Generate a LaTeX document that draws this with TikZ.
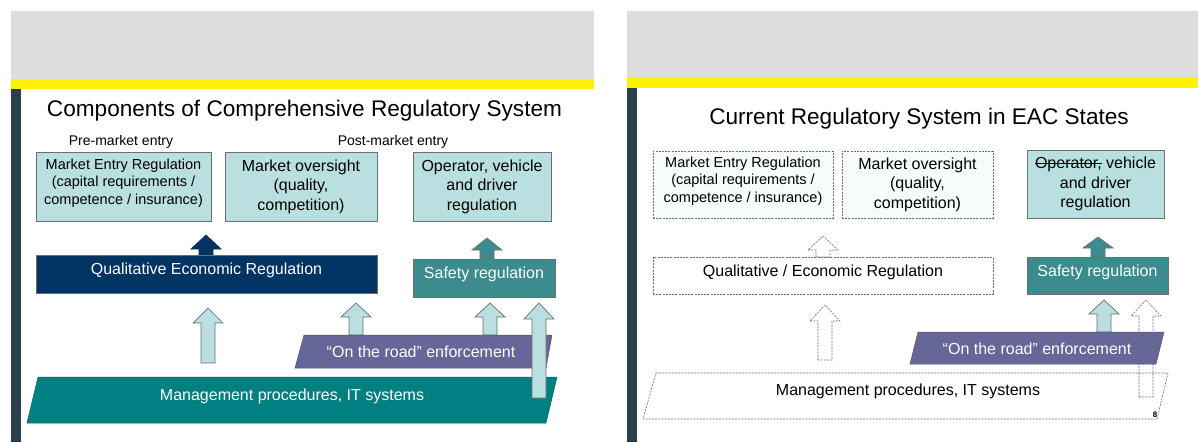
\documentclass[tikz,border=0pt]{standalone}
\usepackage{fontspec}
\setmainfont{Liberation Sans}

\definecolor{headgrey}{HTML}{DDDDDD}
\definecolor{bandyellow}{HTML}{FFF200}
\definecolor{barslate}{HTML}{2A404D}
\definecolor{paleteal}{HTML}{BADFE1}
\definecolor{paletint}{HTML}{F6FBFB}
\definecolor{navy}{HTML}{013463}
\definecolor{safeteal}{HTML}{3C8B8E}
\definecolor{enfpurple}{HTML}{666699}
\definecolor{mgmtteal}{HTML}{008080}
\definecolor{edgegrey}{HTML}{6E6E6E}

% struck-through word
\newlength\strikelen
\newcommand\strikeword[1]{\settowidth{\strikelen}{#1}%
  \rlap{\rule[0.3em]{\strikelen}{0.7pt}}#1}

% upward block arrow: style, centre x, bottom y, head base y, tip y
\newcommand\UpBlock[5]{%
  \draw[#1] (#2-7,#3) -- (#2-7,#4) -- (#2-15,#4) -- (#2,#5)
    -- (#2+15,#4) -- (#2+7,#4) -- (#2+7,#3) -- cycle;}

\begin{document}
\begin{tikzpicture}[x=1pt,y=-1pt,
  titletext/.style={font=\fontsize{22.6}{26}\selectfont, inner sep=0pt},
  phasetext/.style={font=\fontsize{14}{17}\selectfont, inner sep=0pt},
  boxbase/.style={rectangle, inner sep=0pt, outer sep=0pt, align=center,
    line width=0.8pt},
  lift/.style={text depth=10pt},
  lbox/.style={boxbase, draw=edgegrey, fill=paleteal},
  dbox/.style={boxbase, draw=edgegrey, fill=paletint, line width=0.6pt,
    dash pattern=on 2pt off 1.2pt},
  dwhite/.style={dbox, fill=white},
  navybox/.style={boxbase, draw=edgegrey, fill=navy, text=white},
  safebox/.style={boxbase, draw=edgegrey, fill=safeteal, text=white},
  smalltxt/.style={font=\fontsize{14.5}{17.5}\selectfont},
  bigtxt/.style={font=\fontsize{16}{19.5}\selectfont},
  lightarrow/.style={fill=paleteal, draw=edgegrey, line width=0.7pt},
  navyarrow/.style={fill=navy, draw=navy, line width=0.7pt},
  tealarrow/.style={fill=safeteal, draw=edgegrey, line width=0.7pt},
  dasharrow/.style={draw=edgegrey, line width=0.6pt,
    dash pattern=on 2pt off 1.2pt},
  enfshape/.style={fill=enfpurple, draw=enfpurple!80!black, line width=0.5pt},
  mgmtshape/.style={fill=mgmtteal, draw=mgmtteal!80!black, line width=0.5pt},
  mgmtdash/.style={fill=white, draw=edgegrey, line width=0.6pt,
    dash pattern=on 2pt off 1.2pt},
  bandtext/.style={font=\fontsize{16}{19.5}\selectfont, inner sep=0pt}
]
\useasboundingbox (0,0) rectangle (1198,442);
\fill[white] (0,0) rectangle (1198,442);

%% ---------------- left slide ----------------
\fill[headgrey] (11,11) rectangle (594,79);
\fill[bandyellow] (11,79) rectangle (594,89);
\fill[barslate] (11,89) rectangle (21,442);

\node[titletext, anchor=base] (ltitle) at (304.5,116)
  {Components of Comprehensive Regulatory System};
\node[phasetext, anchor=base] (pre) at (121,145) {Pre-market entry};
\node[phasetext, anchor=base] (post) at (393,145) {Post-market entry};

\node[lbox, smalltxt, lift, minimum width=175pt, minimum height=69pt] (entry)
  at (123.5,186.5)
  {Market Entry Regulation\\(capital requirements /\\competence / insurance)};
\node[lbox, bigtxt, minimum width=152pt, minimum height=69pt] (oversight)
  at (301,186.5) {Market oversight\\(quality,\\competition)};
\node[lbox, bigtxt, minimum width=138pt, minimum height=69pt] (operator)
  at (482,186.5) {Operator, vehicle\\and driver\\regulation};

\UpBlock{navyarrow}{206}{255}{249}{235}
\UpBlock{tealarrow}{487}{259}{250}{238}

\node[navybox, bigtxt, lift, minimum width=341pt, minimum height=38pt] (qer)
  at (206.5,274) {Qualitative Economic Regulation};
\node[safebox, bigtxt, lift, minimum width=142pt, minimum height=38pt] (safety)
  at (484,278) {Safety regulation};

\UpBlock{lightarrow}{208}{363}{323}{308}
\UpBlock{lightarrow}{356}{335}{317}{303}
\UpBlock{lightarrow}{490}{335}{317}{303}

% on-the-road enforcement band
\draw[enfshape] (304,335) -- (552,335) -- (546,368) -- (295,368) -- cycle;
\node[bandtext, text=white] (enf) at (421,352)
  {\char"201C On the road\char"201D\ enforcement};

% management band
\draw[mgmtshape] (38,377) -- (557,377) -- (546,423) -- (27,423) -- cycle;
\node[bandtext, text=white] (mgmt) at (292,396)
  {Management procedures, IT systems};

% tall arrow over both bands
\UpBlock{lightarrow}{539}{398}{319}{303}

%% ---------------- right slide ----------------
\fill[headgrey] (627,11) rectangle (1198,78);
\fill[bandyellow] (627,78) rectangle (1198,88);
\fill[barslate] (627,88) rectangle (637,442);

\node[titletext, anchor=base] (rtitle) at (919,124)
  {Current Regulatory System in EAC States};

\node[dbox, smalltxt, lift, minimum width=180pt, minimum height=67pt] (rentry)
  at (743,184.5)
  {Market Entry Regulation\\(capital requirements /\\competence / insurance)};
\node[dbox, bigtxt, minimum width=151pt, minimum height=67pt] (roversight)
  at (917.5,184.5) {Market oversight\\(quality,\\competition)};
\node[lbox, bigtxt, minimum width=137pt, minimum height=68pt] (roperator)
  at (1095.5,184) {\strikeword{Operator,} vehicle\\and driver\\regulation};

\UpBlock{tealarrow}{1098}{257}{248}{237}

\node[dwhite, bigtxt, lift, minimum width=340pt, minimum height=37pt] (rqer)
  at (823,275.5) {Qualitative / Economic Regulation};
\node[safebox, bigtxt, lift, minimum width=141pt, minimum height=37pt] (rsafety)
  at (1097.5,275.5) {Safety regulation};

\UpBlock{dasharrow}{823}{257}{250}{236}

\UpBlock{lightarrow}{1104}{332}{314}{300}

\draw[enfshape] (918,332) -- (1164,332) -- (1156,364) -- (910,364) -- cycle;
\node[bandtext, text=white] (renf) at (1037,349)
  {\char"201C On the road\char"201D\ enforcement};

\draw[mgmtdash] (656,373) -- (1168,373) -- (1157,419) -- (643,419) -- cycle;
\node[bandtext] (rmgmt) at (908,391) {Management procedures, IT systems};

\UpBlock{dasharrow}{825}{360}{321}{305}
\UpBlock{dasharrow}{1146}{397}{316}{300}

\node[font=\fontsize{8}{8}\selectfont\bfseries, inner sep=0pt] (pageno)
  at (1155,415) {8};

\end{tikzpicture}
\end{document}
